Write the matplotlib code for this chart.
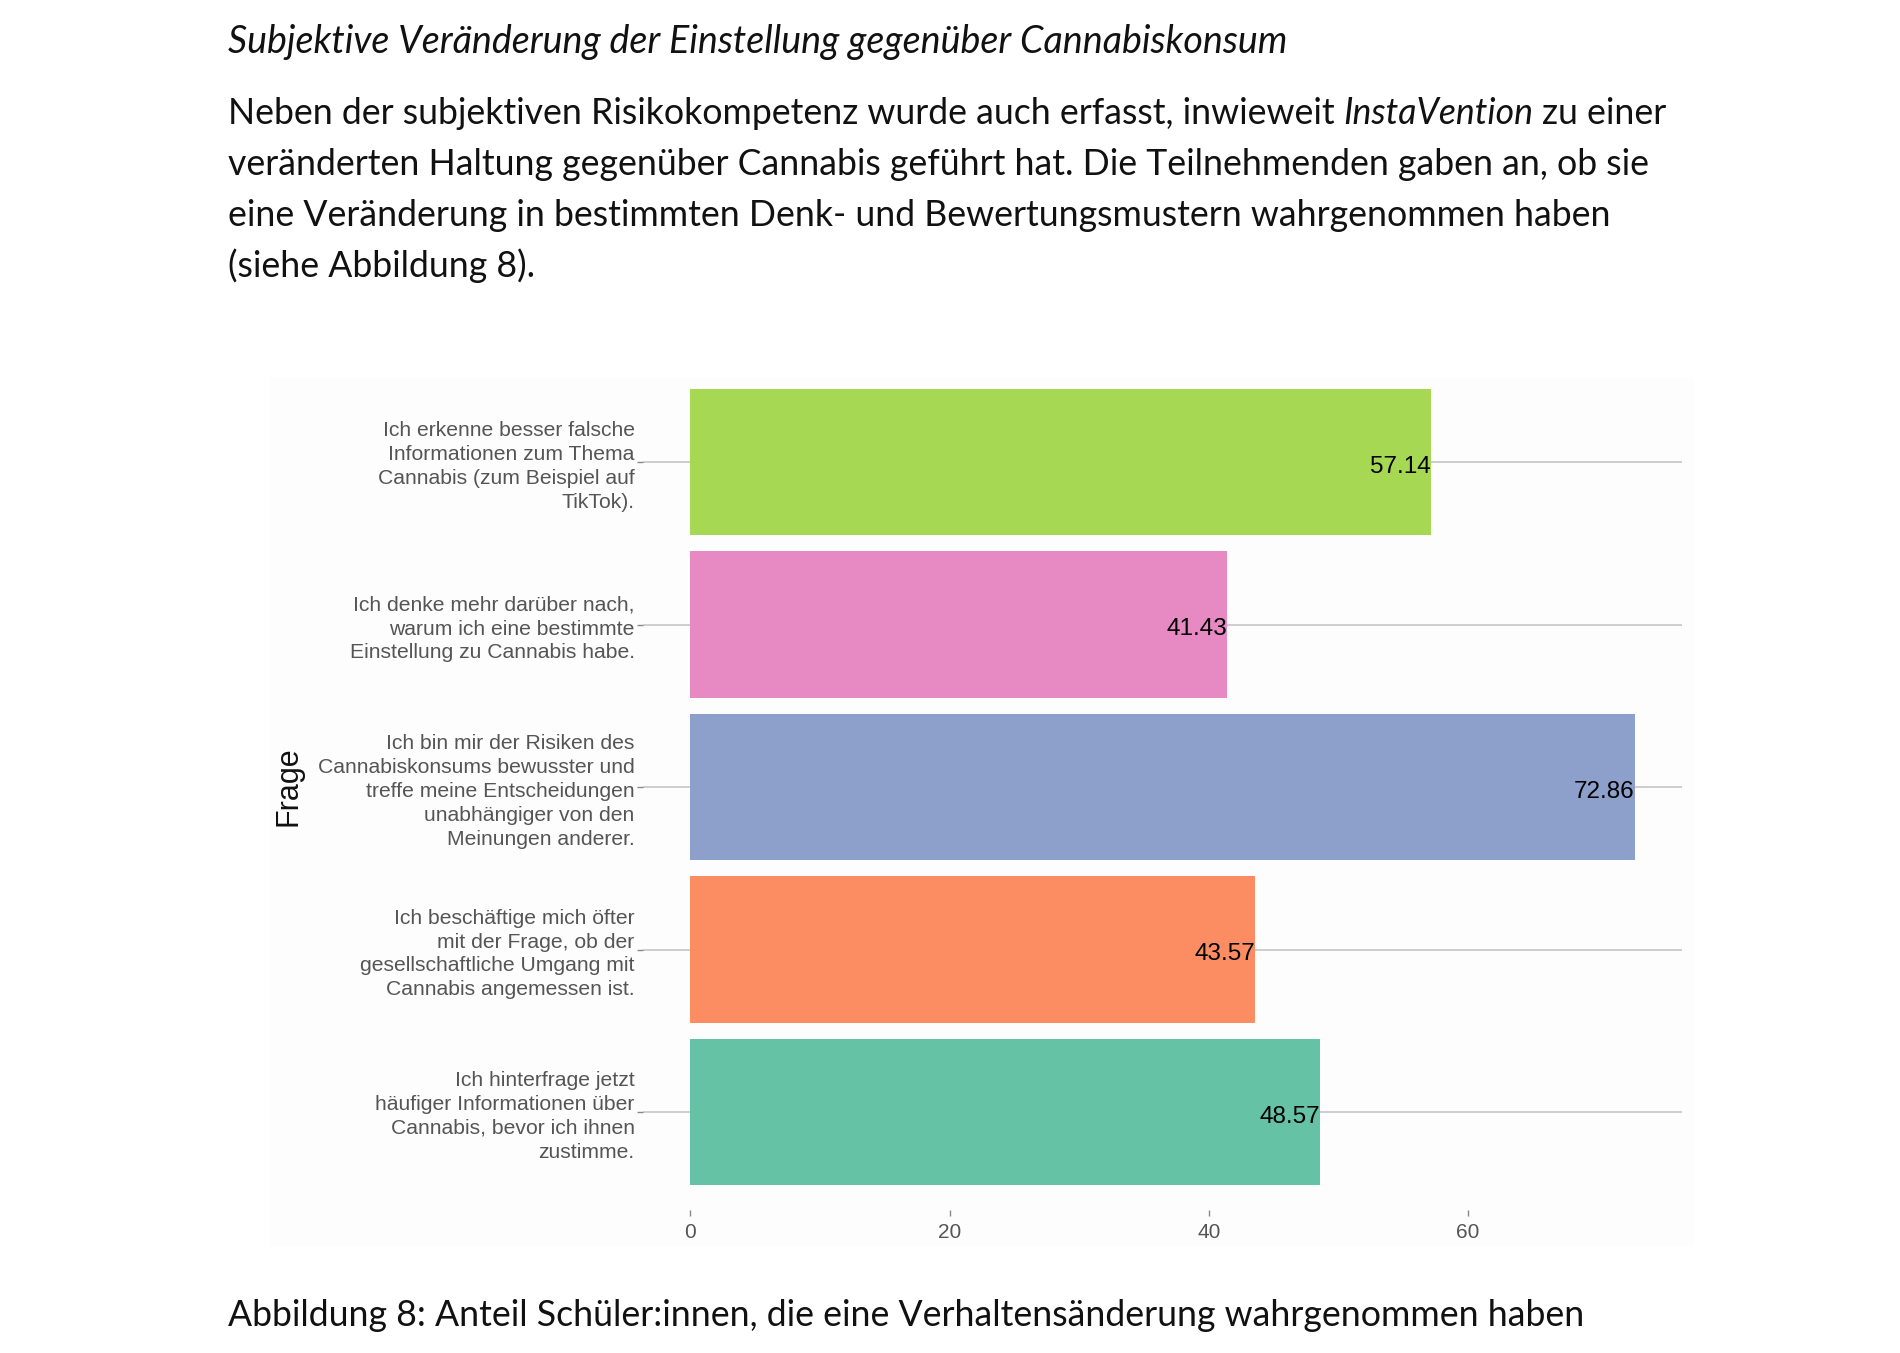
import matplotlib
matplotlib.use("Agg")
import matplotlib.pyplot as plt
from matplotlib.patches import Rectangle

# Daten
fragen = [
    "Ich erkenne besser falsche\nInformationen zum Thema\nCannabis (zum Beispiel auf\nTikTok).",
    "Ich denke mehr darüber nach,\nwarum ich eine bestimmte\nEinstellung zu Cannabis habe.",
    "Ich bin mir der Risiken des\nCannabiskonsums bewusster und\ntreffe meine Entscheidungen\nunabhängiger von den\nMeinungen anderer.",
    "Ich beschäftige mich öfter\nmit der Frage, ob der\ngesellschaftliche Umgang mit\nCannabis angemessen ist.",
    "Ich hinterfrage jetzt\nhäufiger Informationen über\nCannabis, bevor ich ihnen\nzustimme.",
]
anteil = [57.14, 41.43, 72.86, 43.57, 48.57]
farben = ["#A6D854", "#E78AC3", "#8DA0CB", "#FC8D62", "#66C2A5"]
x_ticks = [0, 20, 40, 60]

titel = "Subjektive Veränderung der Einstellung gegenüber Cannabiskonsum"
absatz = [
    "veränderten Haltung gegenüber Cannabis geführt hat. Die Teilnehmenden gaben an, ob sie",
    "eine Veränderung in bestimmten Denk- und Bewertungsmustern wahrgenommen haben",
    "(siehe Abbildung 8).",
]
zeile1 = ["Neben der subjektiven Risikokompetenz wurde auch erfasst, inwieweit", "InstaVention", "zu einer"]
caption = "Abbildung 8: Anteil Schüler:innen, die eine Verhaltensänderung wahrgenommen haben"

W, H = 1900, 1353
fig = plt.figure(figsize=(19, 13.53), dpi=100)
renderer = fig.canvas.get_renderer()

def fy(px):
    return 1 - px / H

def fit(t, target):
    w = t.get_window_extent(renderer=renderer).width
    t.set_fontsize(t.get_fontsize() * target / w)

body_font = "Lato"
chart_font = "Liberation Sans"

# Hintergrund des Diagramms
fig.patches.append(Rectangle((270 / W, fy(1247)), 1425 / W, 870 / H,
                             transform=fig.transFigure, facecolor="#FDFDFD",
                             edgecolor="none", zorder=-1))

ax = fig.add_axes([643 / W, fy(1209.5), (1682 - 643) / W, (1209.5 - 364.6) / H])
ax.set_facecolor("none")
pos = list(range(len(fragen)))
for p in pos:
    ax.axhline(p, color="#C9C9C9", lw=1.3, zorder=0)
ax.barh(pos, anteil, height=0.9, color=farben, zorder=2)
for p, v in zip(pos, anteil):
    ax.annotate(f"{v:.2f}", xy=(v, p), xytext=(0, -1.5), textcoords="offset points",
                ha="right", va="center_baseline", fontsize=17.5,
                family=chart_font, color="#000000", zorder=3)

ax.set_xlim(-0.05 * max(anteil), 1.05 * max(anteil))
ax.set_ylim(len(fragen) - 0.4, -0.6)
ax.set_xticks(x_ticks)
ax.set_xticklabels([str(t) for t in x_ticks], family=chart_font, fontsize=15, color="#555555")
ax.set_yticks(pos)
ax.set_yticklabels(fragen, family=chart_font, fontsize=15.2, color="#555555",
                   linespacing=1.33, ha="right")
ax.tick_params(axis="y", length=4, width=1, color="#888888", pad=2)
ax.tick_params(axis="x", length=4, width=1, color="#888888", pad=6)
for s in ax.spines.values():
    s.set_visible(False)

fig.text(289 / W, fy(786), "Frage", rotation=90, ha="center", va="center",
         fontsize=22, family=chart_font, color="#111111")

# Text oberhalb und unterhalb
t = fig.text(228 / W, fy(53), titel, style="italic", fontsize=20, family=body_font,
             va="baseline", color="#111111")
fit(t, 1060)

ref = fig.text(228 / W, fy(175), absatz[0], fontsize=20, family=body_font,
               va="baseline", color="#111111")
fit(ref, 1422)
fs = ref.get_fontsize()
for i, line in enumerate(absatz[1:]):
    fig.text(228 / W, fy(226 + 51 * i), line, fontsize=fs, family=body_font,
             va="baseline", color="#111111")

gap = fs * 0.25
a = fig.text(228 / W, fy(124), zeile1[0], fontsize=fs, family=body_font,
             va="baseline", color="#111111")
b = ax.annotate(zeile1[1], xy=(1, 0), xycoords=a, xytext=(gap, 0), textcoords="offset points",
                fontsize=fs, family=body_font, style="italic", va="bottom", color="#111111",
                annotation_clip=False)
c = ax.annotate(zeile1[2], xy=(1, 0), xycoords=b, xytext=(gap, 0), textcoords="offset points",
                fontsize=fs, family=body_font, va="bottom", color="#111111",
                annotation_clip=False)

fig.text(228 / W, fy(1326), caption, fontsize=fs, family=body_font,
         va="baseline", color="#111111")

fig.savefig("out.png", dpi=100, facecolor="white")
